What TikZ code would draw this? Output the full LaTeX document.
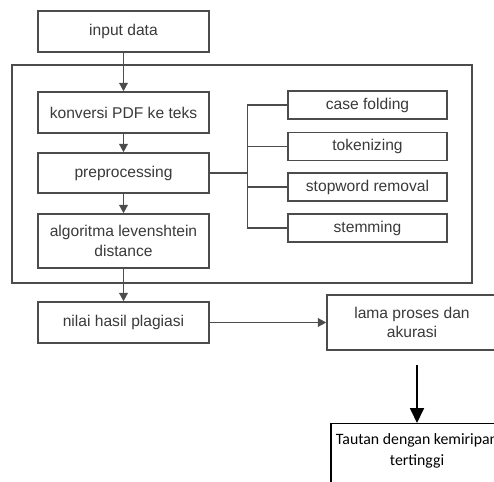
\documentclass[tikz,border=0pt]{standalone}
\usepackage{fontspec}
\setmainfont{Liberation Sans}
\newfontfamily\calfont{Carlito}
\usetikzlibrary{arrows.meta,positioning}
\definecolor{ink}{HTML}{3A3A3A}
\definecolor{ink2}{HTML}{4C4C4C}
\tikzset{
  >={Triangle[length=4.2pt,width=4.4pt]},
  every picture/.style={line join=miter},
  box/.style={draw=ink2, fill=white, align=center, text=ink, inner sep=2pt,
    line width=0.8pt, font=\fontsize{7.8}{9.6}\selectfont},
  subbox/.style={box, minimum width=79.5pt, minimum height=14pt},
  group/.style={draw=ink2, line width=0.8pt},
  arr/.style={->, draw=ink2, line width=0.7pt},
  link/.style={draw=ink2, line width=0.7pt},
  bigarr/.style={-{Triangle[length=7.5pt,width=7pt]}, draw=black, line width=0.9pt},
}

\begin{document}
\begin{tikzpicture}[x=0.5pt,y=-0.5pt]
  \useasboundingbox (0,0) rectangle (494,482);
  \clip (0,0) rectangle (494,482);
  \tikzset{mb/.style={box, minimum width=85.5pt}}
  % =================== outer block ===================
  \node[group, minimum width=230pt, minimum height=109pt] (outer) at (242,174) {};
  % =================== main column ===================
  \node[mb, minimum height=20.5pt] (input) at (123.5,31.5) {input data};
  \node[mb, minimum height=20.5pt] (konv) at (123.5,112.5) {konversi PDF ke teks};
  \node[mb, minimum height=20pt] (prep) at (123.5,173) {preprocessing};
  \node[mb, minimum height=27pt] (algo) at (123.5,241) {algoritma levenshtein\\ distance};
  \node[mb, minimum height=20.5pt] (nilai) at (123.5,322.5) {nilai hasil plagiasi};
  \draw[arr] (input) -- (konv);
  \draw[arr] (konv) -- (prep);
  \draw[arr] (prep) -- (algo);
  \draw[arr] (algo) -- (nilai);
  % =================== preprocessing steps ===================
  \node[subbox] (case) at (367.5,105) {case folding};
  \node[subbox] (token) at (367.5,146.5) {tokenizing};
  \node[subbox] (stop) at (367.5,187) {stopword removal};
  \node[subbox] (stem) at (367.5,228) {stemming};
  \coordinate (split) at (248,173);
  \draw[link] (prep.east) -- (split);
  \draw[link] (case.west) -- ++(-40,0) |- (stem.west);
  \foreach \n in {token,stop}{\draw[link] (\n.west) -- ++(-40,0);}
  % =================== results ===================
  \node[box, minimum width=85pt, minimum height=27.5pt] (lama) at (412,322.5)
    {lama proses dan\\ akurasi};
  \draw[arr] (nilai) -- (lama);
  \node[box, draw=black, line width=0.6pt, text=black, anchor=north,
        minimum width=86pt, minimum height=40pt, inner ysep=4.5pt, text depth=14pt,
        font=\calfont\fontsize{7.9}{10.4}\selectfont] (taut) at (417,423)
    {Tautan dengan kemiripan\\ tertinggi};
  \coordinate (tautin) at (417,365);
  \draw[bigarr] (tautin) -- (taut.north);
\end{tikzpicture}
\end{document}
